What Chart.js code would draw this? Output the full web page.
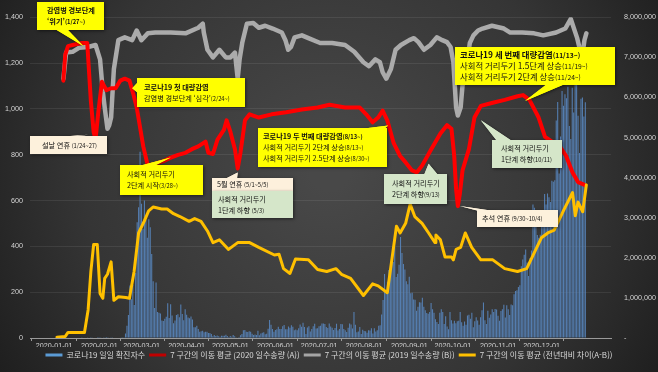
<!DOCTYPE html>
<html lang="ko">
<head>
<meta charset="utf-8">
<title>코로나19 확진자수와 이동량</title>
<script src="https://cdn.jsdelivr.net/npm/chart.js@4.4.1/dist/chart.umd.min.js"></script>
<style>
  html, body { margin: 0; padding: 0; background: #262626; }
  #wrap { width: 658px; height: 372px; }
</style>
</head>
<body>
<div id="wrap"><canvas id="chart" width="658" height="372"></canvas></div>
<script>
// x = day of 2020 (0 = 2020-01-01)
const monthStarts = [0, 31, 60, 91, 121, 152, 182, 213, 244, 274, 305, 335];
const monthLabels = ['2020-01-01','2020-02-01','2020-03-01','2020-04-01','2020-05-01','2020-06-01',
  '2020-07-01','2020-08-01','2020-09-01','2020-10-01','2020-11-01','2020-12-01'];

const seriesLabels = ['코로나19 일일 확진자수', '7 구간의 이동 평균 (2020 일수송량 (A))',
  '7 구간의 이동 평균 (2019 일수송량 (B))', '7 구간의 이동 평균 (전년대비 차이(A-B))'];

// daily confirmed cases (left axis)
const casesJan = [0,0,0,0,0,0,0,0,0,0,0,0,0,0,0,0,0,0,0,1,0,0,0,1,0,1,1,0,0,2,4];
const casesFeb = [1,3,0,1,3,4,1,0,3,1,0,0,0,0,0,1,1,1,20,53,100,229,169,231,144,284,505,571,813];
const casesMar = [586,476,600,516,438,518,483,367,248,131,242,114,110,107,76,74,84,93,152,87,147,98,64,76,100,104,91,146,105,78,125];
const casesApr = [101,89,86,94,81,47,47,53,39,27,30,32,25,27,27,22,22,18,8,13,9,11,8,6,10,10,10,14,9,4];
const casesMay = [9,6,13,8,3,2,4,12,18,34,35,27,26,29,27,19,13,15,13,32,12,20,23,25,16,19,40,79,58,39,27];
const casesJun = [35,38,49,39,39,51,57,38,38,50,45,56,49,34,37,34,43,59,49,67,48,17,46,51,28,39,51,62,42,43];
const casesJul = [51,54,63,63,61,48,44,63,50,45,35,44,62,33,39,61,60,39,34,26,45,63,59,41,113,58,25,28,48,18,36];
const casesAug = [31,30,23,34,33,43,20,43,28,34,54,56,103,166,279,197,246,297,288,324,332,397,266,280,320,441,371,323,299,248,235];
const casesSep = [267,195,198,168,167,119,136,156,155,176,136,121,109,106,113,153,126,110,82,70,61,110,125,114,61,95,50,38,113,77];
const casesOct = [63,75,64,73,75,114,69,54,72,58,98,102,84,110,47,73,91,76,58,91,121,155,77,61,119,88,103,125,114,127,124];
const casesNov = [97,75,118,125,145,89,143,126,100,146,143,191,205,208,223,230,313,343,363,386,330,271,349,382,583,569,504,450,438,451];
const casesDec = [511,540,629,583,631,615,594,686,682,689,950,1030,718,880,1078,1014,1064,1047,1097,926,869,1092,985,1241,1132,970,808,1045,1050,967,1029];

// 7-day moving averages (right axis), [day, value]
const trafficA = [[6.3,6420000],[7.6,7070000],[9.5,7280000],[12.6,7310000],[18.9,7360000],[22.7,7360000],
  [25.2,5910000],[27.1,5140000],[28.4,4950000],[30.3,5630000],[32.8,6390000],[35.9,6180000],[39.1,6230000],
  [42.2,6230000],[45.4,6420000],[48.5,6470000],[51.7,6420000],[54.2,6110000],[56.7,5750000],[61.2,4780000],
  [64.3,4300000],[69.4,4350000],[75.7,4420000],[80.1,4500000],[85.1,4570000],[90.2,4620000],[94.6,4710000],
  [99.0,4780000],[104.0,4900000],[105.9,4620000],[109.1,4590000],[112.2,4950000],[116.6,5190000],[118.5,5430000],
  [121.1,5140000],[124.2,4710000],[126.1,4230000],[128.0,4620000],[131.1,5430000],[134.3,5580000],[140.6,5500000],
  [149.4,5580000],[159.5,5630000],[170.2,5700000],[181.0,5750000],[189.2,5820000],[199.9,5750000],[210.0,5750000],
  [214.4,5580000],[218.8,5380000],[222.6,5500000],[225.7,5670000],[228.9,5430000],[233.3,4860000],[237.7,4540000],
  [241.5,4380000],[245.9,4180000],[249.1,4130000],[252.8,4300000],[259.1,4710000],[265.4,5100000],[269.9,5310000],
  [273.0,5220000],[274.9,4540000],[276.2,3700000],[277.4,3290000],[278.7,3580000],[280.6,4180000],[285.0,4710000],
  [288.8,5500000],[293.2,5790000],[301.4,5870000],[309.6,5940000],[318.4,6030000],[322.2,6060000],[326.6,5940000],
  [332.9,5500000],[337.3,5020000],[343.6,4860000],[347.4,4780000],[351.8,4540000],[356.2,4130000],[360.0,3890000],
  [364.4,3820000]];

const trafficB = [[6.3,6470000],[8.2,7120000],[12.6,7140000],[17.0,7240000],[23.3,7260000],[28.4,7310000],
  [31.5,6950000],[33.4,6150000],[34.7,5750000],[36.6,5220000],[37.8,5310000],[39.1,5500000],[41.0,6710000],
  [44.1,7430000],[48.5,7500000],[53.6,7430000],[56.7,7670000],[59.9,7430000],[64.3,7600000],[69.4,7620000],
  [80.1,7620000],[90.2,7600000],[99.0,7740000],[102.1,7840000],[102.8,7620000],[105.3,7190000],[109.1,7000000],
  [113.5,7190000],[117.9,7000000],[121.1,7000000],[124.2,7120000],[126.1,6470000],[127.4,6950000],[129.3,7380000],
  [132.4,7840000],[136.8,7860000],[140.6,7740000],[145.0,7790000],[150.1,7720000],[156.4,7620000],[158.9,7430000],
  [160.8,7190000],[162.7,7260000],[165.2,7500000],[170.2,7550000],[174.7,7480000],[182.8,7360000],[191.0,7360000],
  [199.9,7310000],[206.2,7140000],[212.5,6880000],[216.3,6780000],[220.7,6950000],[223.8,6880000],[225.7,6630000],
  [228.2,6470000],[231.4,6710000],[234.6,7190000],[238.3,7310000],[244.0,7430000],[247.2,7480000],[250.3,7380000],
  [254.1,7190000],[258.5,7310000],[262.9,7500000],[266.7,7430000],[269.9,7380000],[272.4,7260000],[274.3,6880000],
  [276.2,5750000],[277.4,5550000],[279.3,5750000],[280.6,6300000],[282.5,6510000],[285.6,7360000],[288.1,7550000],
  [291.3,7670000],[294.4,7720000],[300.8,7790000],[309.0,7720000],[313.4,7620000],[321.6,7620000],[329.8,7600000],
  [336.1,7550000],[344.9,7620000],[351.2,7720000],[355.0,7960000],[359.4,7480000],[361.3,7190000],[363.2,7120000],
  [364.4,7430000],[365.7,7600000]];

const trafficDiff = [[1.9,20000],[7.6,40000],[9.5,140000],[12.6,140000],[20.8,140000],[23.3,700000],[25.2,1660000],
  [27.1,2330000],[29.6,2330000],[31.5,1110000],[33.4,990000],[34.7,1490000],[36.6,1590000],[39.1,1900000],
  [41.0,940000],[44.1,1030000],[49.2,1010000],[51.7,990000],[54.9,1660000],[58.0,2620000],[61.8,2910000],
  [64.9,3170000],[68.1,3270000],[73.8,3220000],[77.6,3220000],[82.0,3100000],[86.4,3030000],[92.7,2910000],
  [96.5,2980000],[100.9,2910000],[105.3,2670000],[109.1,2380000],[113.5,2450000],[119.8,2210000],[126.1,2380000],
  [134.3,2380000],[140.6,2260000],[151.3,2070000],[154.5,2090000],[157.6,1730000],[162.0,1610000],[165.8,1970000],
  [174.7,1950000],[181.0,1710000],[187.3,1660000],[193.6,1730000],[197.4,1590000],[203.7,1490000],[212.5,1060000],
  [218.8,1350000],[222.6,1300000],[228.9,1130000],[235.2,2790000],[237.7,2620000],[241.5,2860000],[244.6,3340000],
  [247.8,3030000],[252.8,2860000],[257.3,2620000],[261.7,2380000],[262.3,2570000],[265.4,2450000],[268.6,2020000],
  [273.0,2020000],[274.3,1950000],[276.2,2210000],[279.3,2260000],[282.5,2620000],[286.9,2260000],[293.2,1950000],
  [301.4,1950000],[309.6,1730000],[318.4,1660000],[324.7,1730000],[331.0,2210000],[334.8,2500000],[339.2,2620000],
  [343.6,2690000],[349.9,3170000],[356.2,3630000],[358.1,3050000],[360.0,3390000],[363.2,3150000],[365.7,3820000]];

// callout boxes; tip = [day, right-axis value]
const callouts = [
  { x:37, y:2, w:67, h:28, pad:10, fill:'#ffff00', lines:[['감염병 경보단계',1],['‘위기’(1/27~)',1]], tip:[20.2,7280000], base:[[55,29],[67,29]] },
  { x:30, y:136, w:77, h:18, pad:12, fill:'#fdf1dc', lines:[['설날 연휴 (1/24~27)',0]], tip:[23.3,5070000], base:[[56,137],[69,137]] },
  { x:137, y:78, w:108, h:29, pad:7, fill:'#ffff00', lines:[['코로나19 첫 대량감염',1],['감염병 경보단계 ‘심각’(2/24~)',0]], tip:[53.6,6230000], base:[[138,82],[138,93]] },
  { x:120, y:165, w:83, h:30, pad:7, fill:'#ffff00', lines:[['사회적 거리두기',0],['2단계 시작(3/28~)',0]], tip:[80.1,4500000], base:[[139,166],[154,166]] },
  { x:212, y:178, w:81, h:13, pad:5, fill:'#fdf0dc', lines:[['5월 연휴 (5/1~5/5)',0]], tip:[126.1,4130000], base:[[225,179],[237,179]] },
  { x:212, y:191, w:81, h:27, pad:6, fill:'#d5e6c9', lines:[['사회적 거리두기',0],['1단계 하향 (5/3)',0]] },
  { x:258, y:128, w:129, h:39, pad:5, fill:'#ffff00', lines:[['코로나19 두 번째 대량감염(8/13~)',1],['사회적 거리두기 2단계 상승(8/13~)',0],['사회적 거리두기 2.5단계 상승(8/30~)',0]], tip:[229.5,5300000], base:[[360,129],[384,129]] },
  { x:384, y:174, w:63, h:30, pad:8, fill:'#d5e6c9', lines:[['사회적 거리두기',0],['2단계 하향(9/13)',0]], tip:[257.3,4350000], base:[[424,175],[438,175]] },
  { x:477, y:210, w:81, h:17, pad:5, fill:'#fdf1dc', lines:[['추석 연휴 (9/30~10/4)',0]], tip:[278.7,3290000], base:[[479,211],[494,211]] },
  { x:455, y:47, w:160, h:38, pad:5, size:8.4, fill:'#ffff00', lines:[['코로나19 세 번째 대량감염(11/13~)',1],['사회적 거리두기 1.5단계 상승(11/19~)',0],['사회적 거리두기 2단계 상승(11/24~)',0]], tip:[323.5,5910000], base:[[547,84],[565,84]] },
  { x:492, y:140, w:70, h:28, pad:9, fill:'#d5e6c9', lines:[['사회적 거리두기',0],['1단계 하향(10/11)',0]], tip:[293.2,5430000], base:[[497,141],[512,141]] }
];

const cases = [].concat(casesJan, casesFeb, casesMar, casesApr, casesMay, casesJun,
  casesJul, casesAug, casesSep, casesOct, casesNov, casesDec);
const toPts = arr => arr.map(([d, v]) => ({ x: d, y: v }));

const tickFont = { family: 'Liberation Sans', size: 7.2 };
const tickColor = '#d4d4d4';
const krFont = '"Noto Sans CJK KR"';

const bgPlugin = {
  id: 'bg',
  beforeDraw(chart) {
    const { ctx, width, height } = chart;
    const g = ctx.createRadialGradient(330, 170, 20, 330, 170, 430);
    g.addColorStop(0, '#484848');
    g.addColorStop(0.55, '#353535');
    g.addColorStop(1, '#181818');
    ctx.save();
    ctx.fillStyle = g;
    ctx.fillRect(0, 0, width, height);
    ctx.restore();
  }
};

function drawLine(ctx, text, x, y, size, bold) {
  const m = text.match(/\(\d[^)]*\)\s*$/);
  const main = m ? text.slice(0, m.index) : text;
  const small = m ? m[0] : '';
  const w = bold ? 'bold ' : '';
  ctx.font = w + size + 'px ' + krFont;
  ctx.fillText(main, x, y);
  if (small) {
    const mw = ctx.measureText(main).width;
    ctx.font = w + (size * 0.8) + 'px ' + krFont;
    ctx.fillText(small, x + mw, y + 0.5);
  }
}

const calloutPlugin = {
  id: 'callouts',
  afterDatasetsDraw(chart) {
    const { ctx, scales } = chart;
    callouts.forEach(c => {
      let tx = 0, ty = 0;
      if (c.tip) {
        tx = scales.x.getPixelForValue(c.tip[0]);
        ty = scales.y1.getPixelForValue(c.tip[1]);
      }
      const shape = () => {
        ctx.fillRect(c.x, c.y, c.w, c.h);
        if (c.base) {
          ctx.beginPath();
          ctx.moveTo(c.base[0][0], c.base[0][1]);
          ctx.lineTo(tx, ty);
          ctx.lineTo(c.base[1][0], c.base[1][1]);
          ctx.closePath();
          ctx.fill();
        }
      };
      ctx.save();
      ctx.fillStyle = c.fill;
      ctx.shadowColor = 'rgba(0,0,0,0.5)';
      ctx.shadowBlur = 3;
      ctx.shadowOffsetX = 1;
      ctx.shadowOffsetY = 1;
      shape();
      ctx.shadowColor = 'transparent';
      shape();
      ctx.fillStyle = '#111';
      ctx.textAlign = 'left';
      ctx.textBaseline = 'middle';
      const size = c.size || 7.2;
      const lh = 11;
      let y = c.y + (c.h - c.lines.length * lh) / 2 + lh / 2;
      c.lines.forEach(([t, b]) => {
        drawLine(ctx, t, c.x + c.pad, y, size, b);
        y += lh;
      });
      ctx.restore();
    });
  }
};

new Chart(document.getElementById('chart'), {
  type: 'bar',
  data: {
    datasets: [
      { type: 'bar', label: seriesLabels[0], data: cases.map((v, i) => ({ x: i, y: v })), yAxisID: 'y',
        backgroundColor: 'rgba(88,133,189,0.9)', barPercentage: 0.75, categoryPercentage: 1, order: 4,
        legendColor: '#5b9bd5' },
      { type: 'line', label: seriesLabels[1], data: toPts(trafficA), yAxisID: 'y1', borderColor: '#ff0000',
        backgroundColor: '#ff0000', borderWidth: 4, pointRadius: 0, tension: 0, order: 2,
        borderJoinStyle: 'round', borderCapStyle: 'round', legendColor: '#c00000' },
      { type: 'line', label: seriesLabels[2], data: toPts(trafficB), yAxisID: 'y1', borderColor: '#ababab',
        backgroundColor: '#ababab', borderWidth: 4.5, pointRadius: 0, tension: 0, order: 3,
        borderJoinStyle: 'round', borderCapStyle: 'round', legendColor: '#a5a5a5' },
      { type: 'line', label: seriesLabels[3], data: toPts(trafficDiff), yAxisID: 'y1', borderColor: '#ffc000',
        backgroundColor: '#ffc000', borderWidth: 3, pointRadius: 0, tension: 0, order: 1,
        borderJoinStyle: 'round', borderCapStyle: 'round', legendColor: '#ffc000' }
    ]
  },
  options: {
    responsive: false,
    animation: false,
    devicePixelRatio: 1,
    events: [],
    layout: { padding: { top: 6, left: 0, right: 0, bottom: 3 } },
    plugins: {
      tooltip: { enabled: false },
      legend: {
        position: 'bottom',
        labels: {
          color: '#d9d9d9',
          font: { family: krFont, size: 8 },
          boxWidth: 17,
          boxHeight: 3,
          padding: 4,
          generateLabels(chart) {
            return chart.data.datasets.map((ds, i) => ({
              text: ds.label, datasetIndex: i, fillStyle: ds.legendColor,
              strokeStyle: ds.legendColor, lineWidth: 0, hidden: false, fontColor: '#d9d9d9'
            }));
          }
        }
      }
    },
    scales: {
      x: {
        type: 'linear', min: 0, max: 366,
        afterBuildTicks: s => { s.ticks = monthStarts.map(v => ({ value: v })); },
        afterFit: s => { s.height = 9; },
        ticks: {
          autoSkip: false, maxRotation: 0, minRotation: 0, padding: 1,
          color: tickColor, font: tickFont,
          callback: v => monthLabels[monthStarts.indexOf(v)]
        },
        grid: { drawOnChartArea: false, tickLength: 3, color: '#9a9a9a' },
        border: { color: '#9a9a9a', width: 1 }
      },
      y: {
        position: 'left', min: 0, max: 1400,
        afterFit: s => { s.width = 30; },
        ticks: { stepSize: 200, padding: 7, color: tickColor, font: tickFont,
          callback: v => v.toLocaleString('en-US') },
        grid: { color: 'rgba(255,255,255,0.08)', drawTicks: false },
        border: { display: false }
      },
      y1: {
        position: 'right', min: 0, max: 8000000,
        afterFit: s => { s.width = 47; },
        ticks: { stepSize: 1000000, padding: 13, color: tickColor, font: tickFont,
          callback: v => v === 0 ? '-' : v.toLocaleString('en-US') },
        grid: { drawOnChartArea: false, drawTicks: false },
        border: { display: false }
      }
    }
  },
  plugins: [bgPlugin, calloutPlugin]
});
</script>
</body>
</html>
